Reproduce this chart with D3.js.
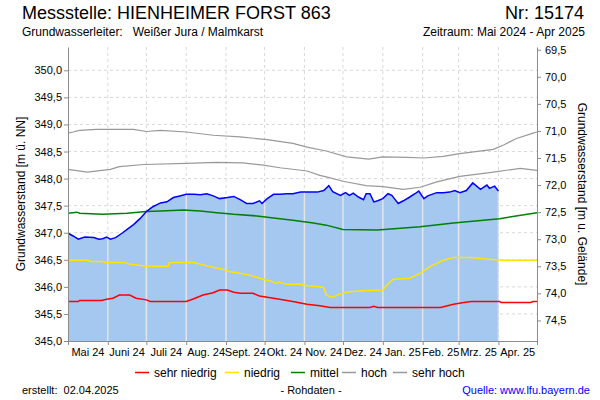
<!DOCTYPE html>
<html>
<head>
<meta charset="utf-8">
<script src="https://cdn.jsdelivr.net/npm/d3@7"></script>
<style>
    body { margin: 0; background: #fff; }
    svg { font-family: "Liberation Sans", Arial, sans-serif; }
</style>
</head>
<body>
<svg id="chart" width="600" height="400"></svg>
<script>

// x axis labels (one per month)
const monthLabels = ["Mai 24", "Juni 24", "Juli 24", "Aug. 24", "Sept. 24", "Okt. 24",
    "Nov. 24", "Dez. 24", "Jan. 25", "Feb. 25", "Mrz. 25", "Apr. 25"];

const leftTicks = [345.0, 345.5, 346.0, 346.5, 347.0, 347.5, 348.0, 348.5, 349.0, 349.5, 350.0];
const rightTicks = [69.5, 70.0, 70.5, 71.0, 71.5, 72.0, 72.5, 73.0, 73.5, 74.0, 74.5];

// ground level (m ü. NN) linking both y axes
const groundLevel = 419.88;

// measured groundwater level [m ü. NN]
const measured = [
    ["2024-05-01", 346.99], ["2024-05-05", 346.94], ["2024-05-09", 346.88], ["2024-05-14", 346.92],
    ["2024-05-21", 346.91], ["2024-05-25", 346.88], ["2024-05-28", 346.89], ["2024-05-31", 346.92],
    ["2024-06-03", 346.88], ["2024-06-07", 346.91], ["2024-06-12", 346.99], ["2024-06-16", 347.06],
    ["2024-06-21", 347.15], ["2024-06-26", 347.26], ["2024-07-01", 347.39], ["2024-07-06", 347.48],
    ["2024-07-12", 347.55], ["2024-07-17", 347.57], ["2024-07-22", 347.65], ["2024-07-27", 347.68],
    ["2024-08-01", 347.71], ["2024-08-07", 347.71], ["2024-08-12", 347.70], ["2024-08-17", 347.72],
    ["2024-08-22", 347.68], ["2024-08-27", 347.63], ["2024-09-02", 347.65], ["2024-09-07", 347.67],
    ["2024-09-12", 347.61], ["2024-09-17", 347.54], ["2024-09-22", 347.54], ["2024-09-27", 347.59],
    ["2024-09-29", 347.54], ["2024-10-03", 347.63], ["2024-10-08", 347.71], ["2024-10-13", 347.71],
    ["2024-10-18", 347.72], ["2024-10-23", 347.72], ["2024-10-29", 347.75], ["2024-11-03", 347.75],
    ["2024-11-11", 347.75], ["2024-11-16", 347.78], ["2024-11-20", 347.87], ["2024-11-23", 347.76],
    ["2024-11-29", 347.69], ["2024-12-03", 347.74], ["2024-12-06", 347.69], ["2024-12-09", 347.73],
    ["2024-12-13", 347.66], ["2024-12-17", 347.61], ["2024-12-19", 347.72], ["2024-12-22", 347.72],
    ["2024-12-25", 347.57], ["2024-12-28", 347.59], ["2025-01-01", 347.63], ["2025-01-05", 347.72],
    ["2025-01-08", 347.69], ["2025-01-10", 347.63], ["2025-01-13", 347.54], ["2025-01-17", 347.59],
    ["2025-01-22", 347.66], ["2025-01-26", 347.72], ["2025-01-29", 347.77], ["2025-02-02", 347.63],
    ["2025-02-05", 347.68], ["2025-02-12", 347.74], ["2025-02-17", 347.74], ["2025-02-22", 347.75],
    ["2025-02-26", 347.78], ["2025-03-02", 347.74], ["2025-03-07", 347.78], ["2025-03-12", 347.92],
    ["2025-03-18", 347.80], ["2025-03-23", 347.88], ["2025-03-25", 347.82], ["2025-03-29", 347.86],
    ["2025-04-01", 347.77]
];

const sehrHoch = [
    ["2024-05-01", 348.84], ["2024-05-05", 348.86], ["2024-05-10", 348.89], ["2024-05-23", 348.91],
    ["2024-06-21", 348.91], ["2024-07-01", 348.87], ["2024-07-12", 348.89], ["2024-08-01", 348.86],
    ["2024-08-22", 348.80], ["2024-09-12", 348.77], ["2024-10-03", 348.72], ["2024-10-23", 348.65],
    ["2024-11-03", 348.58], ["2024-11-18", 348.51], ["2024-12-04", 348.40], ["2024-12-21", 348.36],
    ["2025-01-01", 348.40], ["2025-01-20", 348.39], ["2025-02-02", 348.38], ["2025-02-17", 348.41],
    ["2025-03-02", 348.46], ["2025-03-28", 348.54], ["2025-04-05", 348.62], ["2025-04-15", 348.74],
    ["2025-04-28", 348.84], ["2025-05-01", 348.86]
];

const hoch = [
    ["2024-05-01", 348.17], ["2024-05-16", 348.12], ["2024-06-03", 348.17], ["2024-06-10", 348.22],
    ["2024-06-29", 348.26], ["2024-08-01", 348.28], ["2024-08-25", 348.30], ["2024-09-14", 348.29],
    ["2024-09-30", 348.25], ["2024-10-13", 348.20], ["2024-11-03", 348.14], ["2024-11-13", 348.06],
    ["2024-11-18", 348.03], ["2024-12-01", 347.95], ["2024-12-19", 347.87], ["2025-01-01", 347.85],
    ["2025-01-17", 347.80], ["2025-01-30", 347.84], ["2025-02-12", 347.94], ["2025-03-02", 348.04],
    ["2025-03-28", 348.12], ["2025-04-18", 348.19], ["2025-05-01", 348.15]
];

const mittel = [
    ["2024-05-01", 347.36], ["2024-05-08", 347.38], ["2024-05-10", 347.36], ["2024-05-28", 347.34],
    ["2024-06-16", 347.36], ["2024-07-01", 347.39], ["2024-07-12", 347.40], ["2024-07-30", 347.42],
    ["2024-08-12", 347.40], ["2024-08-25", 347.37], ["2024-09-07", 347.34], ["2024-09-25", 347.31],
    ["2024-10-08", 347.27], ["2024-10-23", 347.23], ["2024-11-08", 347.18], ["2024-11-18", 347.14],
    ["2024-12-01", 347.06], ["2024-12-28", 347.05], ["2025-01-30", 347.11], ["2025-02-25", 347.18],
    ["2025-04-02", 347.26], ["2025-05-01", 347.37]
];

const niedrig = [
    ["2024-05-01", 346.49], ["2024-05-17", 346.49], ["2024-05-18", 346.47], ["2024-05-28", 346.47],
    ["2024-05-30", 346.45], ["2024-06-14", 346.45], ["2024-06-18", 346.42], ["2024-06-25", 346.40],
    ["2024-07-01", 346.38], ["2024-07-18", 346.38], ["2024-07-19", 346.45], ["2024-08-07", 346.45],
    ["2024-08-12", 346.42], ["2024-08-20", 346.37], ["2024-08-30", 346.32], ["2024-09-04", 346.28],
    ["2024-09-12", 346.25], ["2024-09-22", 346.20], ["2024-09-30", 346.14], ["2024-10-08", 346.09],
    ["2024-10-10", 346.06], ["2024-10-12", 346.09], ["2024-10-18", 346.05], ["2024-10-29", 346.05],
    ["2024-11-03", 346.02], ["2024-11-13", 346.00], ["2024-11-16", 345.99], ["2024-11-18", 345.85],
    ["2024-11-21", 345.82], ["2024-11-23", 345.81], ["2024-11-29", 345.87], ["2024-12-06", 345.91],
    ["2024-12-17", 345.93], ["2025-01-01", 345.94], ["2025-01-04", 346.03], ["2025-01-09", 346.14],
    ["2025-01-22", 346.16], ["2025-01-30", 346.25], ["2025-02-07", 346.38], ["2025-02-17", 346.49],
    ["2025-02-25", 346.54], ["2025-03-10", 346.54], ["2025-03-25", 346.51], ["2025-04-03", 346.49],
    ["2025-05-01", 346.49]
];

const sehrNiedrig = [
    ["2024-05-01", 345.73], ["2024-05-09", 345.73], ["2024-05-10", 345.75], ["2024-05-27", 345.75],
    ["2024-05-31", 345.77], ["2024-06-05", 345.79], ["2024-06-10", 345.85], ["2024-06-18", 345.85],
    ["2024-06-23", 345.79], ["2024-07-01", 345.76], ["2024-07-04", 345.73], ["2024-08-01", 345.73],
    ["2024-08-07", 345.78], ["2024-08-14", 345.85], ["2024-08-22", 345.89], ["2024-08-27", 345.94],
    ["2024-09-02", 345.94], ["2024-09-07", 345.90], ["2024-09-12", 345.88], ["2024-09-22", 345.88],
    ["2024-09-27", 345.83], ["2024-10-08", 345.79], ["2024-10-23", 345.73], ["2024-11-03", 345.68],
    ["2024-11-13", 345.65], ["2024-11-21", 345.62], ["2024-12-22", 345.62], ["2024-12-25", 345.64],
    ["2024-12-28", 345.62], ["2025-02-15", 345.62], ["2025-02-25", 345.68], ["2025-03-05", 345.71],
    ["2025-03-11", 345.73], ["2025-04-02", 345.73], ["2025-04-03", 345.71], ["2025-04-26", 345.71],
    ["2025-04-28", 345.73], ["2025-05-01", 345.73]
];

const statLines = [
    { name: "sehr niedrig", values: sehrNiedrig, color: "#ff0000" },
    { name: "niedrig", values: niedrig, color: "#ffe400" },
    { name: "mittel", values: mittel, color: "#008000" },
    { name: "hoch", values: hoch, color: "#999999" },
    { name: "sehr hoch", values: sehrHoch, color: "#999999" }
];

const deLocale = d3.formatLocale({ decimal: ",", thousands: ".", grouping: [3], currency: ["", " €"] });
const fmt = deLocale.format(".1f");
const parse = d3.timeParse("%Y-%m-%d");

function drawChart() {
    const svg = d3.select("#chart");
    const margin = { top: 47, right: 63, bottom: 59, left: 68 };
    const width = +svg.attr("width") - margin.left - margin.right;
    const height = +svg.attr("height") - margin.top - margin.bottom;

    svg.append("rect").attr("width", 600).attr("height", 400).attr("fill", "#fff");

    // header
    svg.append("text").attr("x", 22).attr("y", 19).attr("font-size", 18).text("Messstelle: HIENHEIMER FORST 863");
    svg.append("text").attr("x", 584).attr("y", 19).attr("font-size", 18).attr("text-anchor", "end").text("Nr: 15174");
    svg.append("text").attr("x", 22).attr("y", 36).attr("font-size", 12).attr("xml:space", "preserve")
        .text("Grundwasserleiter:   Weißer Jura / Malmkarst");
    svg.append("text").attr("x", 585).attr("y", 36).attr("font-size", 12).attr("text-anchor", "end")
        .text("Zeitraum: Mai 2024 - Apr 2025");

    const chartArea = svg.append("g").attr("transform", `translate(${margin.left},${margin.top})`);

    const xScale = d3.scaleTime()
        .domain([parse("2024-05-01"), parse("2025-05-01")])
        .range([0, width]);

    const yScale = d3.scaleLinear()
        .domain([345, 345 + height / 54.14])
        .range([height, 0]);

    // depth below ground, inverted against the left axis
    const yRight = d3.scaleLinear()
        .domain(yScale.domain().map(v => groundLevel - v))
        .range([height, 0]);

    const monthStarts = d3.timeMonth.range(xScale.domain()[0], xScale.domain()[1]);

    // dashed grid
    chartArea.append("g").selectAll("line")
        .data(leftTicks.slice(1))
        .enter().append("line")
        .attr("x1", 0).attr("x2", width)
        .attr("y1", d => yScale(d)).attr("y2", d => yScale(d))
        .attr("stroke", "#d8d8d8").attr("stroke-dasharray", "3,3");

    chartArea.append("g").selectAll("line")
        .data(monthStarts.slice(1))
        .enter().append("line")
        .attr("x1", d => xScale(d)).attr("x2", d => xScale(d))
        .attr("y1", 0).attr("y2", height)
        .attr("stroke", "#d8d8d8").attr("stroke-dasharray", "3,3");

    const values = measured.map(d => ({ date: parse(d[0]), value: d[1] }));

    const area = d3.area()
        .x(d => xScale(d.date))
        .y0(height)
        .y1(d => yScale(d.value));

    chartArea.append("path")
        .datum(values)
        .attr("d", area)
        .attr("fill", "#a5c8f0");

    // month lines over the filled area
    chartArea.append("clipPath").attr("id", "fillClip")
        .append("path").datum(values).attr("d", area);

    chartArea.append("g").attr("clip-path", "url(#fillClip)")
        .selectAll("line")
        .data(monthStarts.slice(1))
        .enter().append("line")
        .attr("x1", d => xScale(d)).attr("x2", d => xScale(d))
        .attr("y1", 0).attr("y2", height)
        .attr("stroke", "#e4e4e4").attr("stroke-width", 1.5);

    // statistic lines
    const line = d3.line()
        .x(d => xScale(d.date))
        .y(d => yScale(d.value));

    statLines.slice().reverse().forEach(s => {
        chartArea.append("path")
            .datum(s.values.map(d => ({ date: parse(d[0]), value: d[1] })))
            .attr("d", line)
            .attr("fill", "none")
            .attr("stroke", s.color)
            .attr("stroke-width", s.color == "#999999" ? 1.2 : 1.5);
    });

    chartArea.append("path")
        .datum(values)
        .attr("d", line)
        .attr("fill", "none")
        .attr("stroke", "#0000ff")
        .attr("stroke-width", 1.5);

    // axes
    const yAxis = d3.axisLeft(yScale).tickValues(leftTicks).tickFormat(fmt).tickSize(4).tickSizeOuter(0);
    const yAxisRight = d3.axisRight(yRight).tickValues(rightTicks).tickFormat(fmt).tickSize(4).tickSizeOuter(0);
    const xAxis = d3.axisBottom(xScale).tickValues(monthStarts.concat([xScale.domain()[1]]))
        .tickFormat("").tickSize(4).tickSizeOuter(0);

    const gy = chartArea.append("g").call(yAxis);
    const gr = chartArea.append("g").attr("transform", `translate(${width},0)`).call(yAxisRight);
    const gx = chartArea.append("g").attr("transform", `translate(0,${height})`).call(xAxis);

    [gy, gr, gx].forEach(g => {
        g.select(".domain").attr("stroke", "#8c8c8c");
        g.selectAll(".tick line").attr("stroke", "#8c8c8c");
        g.selectAll(".tick text").attr("font-size", 11).attr("fill", "#000")
            .attr("font-family", "Liberation Sans, Arial, sans-serif");
    });
    gy.selectAll(".tick text").attr("x", -6);
    gr.selectAll(".tick text").attr("x", 8);

    // month labels centred between month starts
    chartArea.append("g").selectAll("text")
        .data(monthStarts)
        .enter().append("text")
        .attr("x", (d, i) => (xScale(d) + xScale(d3.timeMonth.offset(d, 1))) / 2)
        .attr("y", height + 15)
        .attr("text-anchor", "middle")
        .attr("font-size", 11)
        .text((d, i) => monthLabels[i]);

    // axis titles
    svg.append("text")
        .attr("transform", `translate(25,${margin.top + height / 2}) rotate(-90)`)
        .attr("text-anchor", "middle").attr("font-size", 12)
        .text("Grundwasserstand [m ü. NN]");
    svg.append("text")
        .attr("transform", `translate(578,${margin.top + height / 2}) rotate(90)`)
        .attr("text-anchor", "middle").attr("font-size", 12)
        .text("Grundwasserstand [m u. Gelände]");

    // legend
    const legendX = [135, 225, 291, 342, 393];
    const legend = svg.append("g");
    statLines.forEach((s, i) => {
        legend.append("line")
            .attr("x1", legendX[i]).attr("x2", legendX[i] + 14)
            .attr("y1", 372.5).attr("y2", 372.5)
            .attr("stroke", s.color).attr("stroke-width", 1.5);
        legend.append("text")
            .attr("x", legendX[i] + 19).attr("y", 377)
            .attr("font-size", 12)
            .text(s.name);
    });

    // footer
    svg.append("text").attr("x", 22).attr("y", 394).attr("font-size", 11).attr("xml:space", "preserve")
        .text("erstellt:  02.04.2025");
    svg.append("text").attr("x", 311).attr("y", 394).attr("font-size", 11).attr("text-anchor", "middle")
        .text("- Rohdaten -");
    svg.append("text").attr("x", 590).attr("y", 394).attr("font-size", 11).attr("text-anchor", "end")
        .attr("fill", "#0000ff").text("Quelle: www.lfu.bayern.de");
}

drawChart();
</script>
</body>
</html>
